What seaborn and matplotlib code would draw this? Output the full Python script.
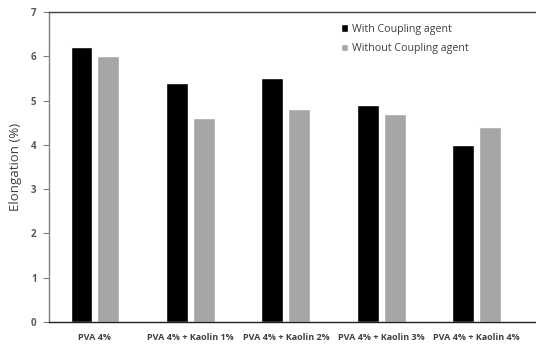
import pandas as pd
import matplotlib.pyplot as plt
import seaborn as sns

# Dados
categorias = ['PVA 4%', 'PVA 4% + Kaolin 1%', 'PVA 4% + Kaolin 2%',
              'PVA 4% + Kaolin 3%', 'PVA 4% + Kaolin 4%']
com_agente = [6.2, 5.4, 5.5, 4.9, 4.0]
sem_agente = [6.0, 4.6, 4.8, 4.7, 4.4]
series = ['With Coupling agent', 'Without Coupling agent']

df = pd.DataFrame({
    'Categoria': categorias * 2,
    'Serie': [series[0]] * len(categorias) + [series[1]] * len(categorias),
    'Elongation': com_agente + sem_agente,
})

sns.set_style('white')
plt.rcParams['font.family'] = ['Open Sans', 'DejaVu Sans']

fig = plt.figure(figsize=(5.36, 3.45), dpi=100)
ax = fig.add_axes([49 / 536, 23 / 345, 1 - 49 / 536, 310 / 345])

sns.barplot(data=df, x='Categoria', y='Elongation', hue='Serie',
            palette=['#000000', '#A6A6A6'], width=0.56, gap=0.18,
            saturation=1, ax=ax, legend=True)

ax.set_xlim(-0.48, 4.62)
ax.set_ylim(0, 7)
ax.set_yticks(range(0, 8))
ax.set_xlabel('')
ax.set_ylabel('Elongation (%)', fontsize=9.5, color='#404040')
ax.yaxis.set_label_coords(-27 / 487, 0.5)

ax.tick_params(axis='y', direction='out', length=4, width=0.8, color='#808080',
               labelsize=7, labelcolor='#595959', pad=5, left=True)
ax.tick_params(axis='x', length=0, labelsize=6.5, labelcolor='#404040', pad=8)
for lbl in ax.get_yticklabels() + ax.get_xticklabels():
    lbl.set_fontweight('bold')

for side in ['left', 'top', 'bottom']:
    ax.spines[side].set_visible(True)
    ax.spines[side].set_linewidth(1.0)
ax.spines['left'].set_color('#808080')
ax.spines['top'].set_color('#404040')
ax.spines['bottom'].set_color('#202020')
ax.spines['right'].set_visible(False)

leg = ax.legend(loc='upper left', bbox_to_anchor=(331 / 536, 1 - 14 / 345),
                bbox_transform=fig.transFigure, frameon=False, fontsize=7.7,
                handlelength=0.7, handleheight=0.7, handletextpad=0.4,
                labelspacing=0.8, labelcolor='#404040')

fig.savefig('out.png', dpi=100)
